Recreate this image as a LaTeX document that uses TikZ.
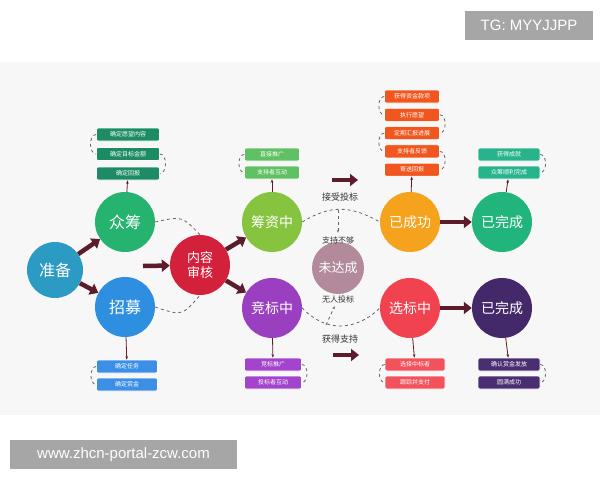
\documentclass[tikz,border=0pt]{standalone}
\usepackage{fontspec}
\setmainfont{Noto Sans CJK SC}
\newfontfamily\wmfont{Liberation Sans}
\usetikzlibrary{arrows.meta}

\definecolor{prepc}{HTML}{2B9BC4}
\definecolor{crowdc}{HTML}{25B36F}
\definecolor{recruitc}{HTML}{2E8FE0}
\definecolor{reviewc}{HTML}{D3203B}
\definecolor{raisec}{HTML}{86C440}
\definecolor{bidc}{HTML}{9A3FC0}
\definecolor{failc}{HTML}{B28A9C}
\definecolor{successc}{HTML}{F5A21C}
\definecolor{selectc}{HTML}{F0434F}
\definecolor{donec}{HTML}{22B57B}
\definecolor{closec}{HTML}{43286A}
\definecolor{crowdbox}{HTML}{1D8C64}
\definecolor{raisebox}{HTML}{5FC163}
\definecolor{successbox}{HTML}{F0561E}
\definecolor{donebox}{HTML}{27B48C}
\definecolor{recruitbox}{HTML}{3D8FE6}
\definecolor{bidbox}{HTML}{A444CC}
\definecolor{selectbox}{HTML}{F2525C}
\definecolor{closebox}{HTML}{4A2E72}
\definecolor{arrowc}{HTML}{5B1C2B}
\definecolor{wmgray}{HTML}{A6A6A6}

\begin{document}
\begin{tikzpicture}[x=1pt,y=-1pt,
  stage/.style={circle, fill=#1, text=white, minimum size=60pt, inner sep=0pt,
    align=center, font=\fontsize{16}{17}\selectfont},
  task/.style={fill=#1, text=white, rounded corners=2pt, minimum height=13pt,
    inner sep=1pt, draw=white, line width=.6pt, font=\fontsize{6}{7}\selectfont},
  link/.style={dashed, black!60, line width=.8pt},
  push/.style={line width=4.5pt, draw=arrowc, -{Triangle[length=8pt,width=12pt]}},
  pin/.style={-{Stealth[length=3.5pt]}, draw=arrowc, line width=.8pt},
  note/.style={font=\fontsize{8}{9}\selectfont, text=black!80}]
\useasboundingbox (0,0) rectangle (600,480);
\fill[black!3] (0,62) rectangle (600,415);

% watermarks
\node[fill=wmgray, text=white, minimum width=128pt, minimum height=29pt, inner sep=0pt,
  font=\wmfont\fontsize{15}{16}\selectfont] (tg) at (529,25.5) {TG: MYYJJPP};
\node[fill=wmgray, text=white, minimum width=227pt, minimum height=29pt, inner sep=0pt,
  font=\wmfont\fontsize{15}{16}\selectfont] (site) at (123.5,454.5) {www.zhcn-portal-zcw.com};

% stages
\node[stage=prepc, minimum size=56pt] (prep) at (55,270) {准备};
\node[stage=crowdc] (crowd) at (125,222) {众筹};
\node[stage=recruitc] (recruit) at (125,307) {招募};
\node[stage=reviewc, font=\fontsize{13}{15}\selectfont] (review) at (200,265) {内容\\审核};
\node[stage=raisec, font=\fontsize{14}{15}\selectfont] (raise) at (272,222) {筹资中};
\node[stage=bidc, font=\fontsize{14}{15}\selectfont] (bid) at (272,308) {竞标中};
\node[stage=failc, minimum size=52pt, font=\fontsize{13}{15}\selectfont] (fail) at (338,268) {未达成};
\node[stage=successc, font=\fontsize{14}{15}\selectfont] (success) at (410,222) {已成功};
\node[stage=selectc, font=\fontsize{14}{15}\selectfont] (select) at (410,308) {选标中};
\node[stage=donec, font=\fontsize{14}{15}\selectfont] (done) at (502,222) {已完成};
\node[stage=closec, font=\fontsize{14}{15}\selectfont] (close) at (502,308) {已完成};

% task stacks
\foreach \t [count=\i] in {确定愿望内容,确定目标金额,确定回报}
  \node[task=crowdbox, minimum width=63pt] (c\i) at (128,{134.5+19.5*(\i-1)}) {\t};
\foreach \t [count=\i] in {直接推广,支持者互动}
  \node[task=raisebox, minimum width=55pt] (r\i) at (272,{154.5+18*(\i-1)}) {\t};
\foreach \t [count=\i] in {获得资金款项,执行愿望,定期汇报进展,支持者反馈,寄送回报}
  \node[task=successbox, minimum width=55pt] (s\i) at (412,{96.5+18.3*(\i-1)}) {\t};
\foreach \t [count=\i] in {获得成就,众筹顺利完成}
  \node[task=donebox, minimum width=62pt] (d\i) at (509,{154.5+18*(\i-1)}) {\t};
\foreach \t [count=\i] in {确定任务,确定赏金}
  \node[task=recruitbox, minimum width=61pt] (m\i) at (127,{366.5+18*(\i-1)}) {\t};
\foreach \t [count=\i] in {竞标推广,投标者互动}
  \node[task=bidbox, minimum width=57pt] (b\i) at (273,{364.5+18*(\i-1)}) {\t};
\foreach \t [count=\i] in {选择中标者,跟踪并支付}
  \node[task=selectbox, minimum width=60pt] (x\i) at (415,{364.5+18*(\i-1)}) {\t};
\foreach \t [count=\i] in {确认赏金发放,圆满成功}
  \node[task=closebox, minimum width=62pt] (k\i) at (509,{364.5+18*(\i-1)}) {\t};

% dashed links inside the stacks
\draw[link] (c1.west) to[out=180,in=180] (c2.west);
\draw[link] (c2.east) to[out=0,in=0] (c3.east);
\draw[link] (r1.west) to[out=180,in=180] (r2.west);
\draw[link] (s1.west) to[out=180,in=180] (s2.west);
\draw[link] (s2.east) to[out=0,in=0] (s3.east);
\draw[link] (s3.west) to[out=180,in=180] (s4.west);
\draw[link] (s4.east) to[out=0,in=0] (s5.east);
\draw[link] (d1.east) to[out=0,in=0] (d2.east);
\draw[link] (m1.west) to[out=180,in=180] (m2.west);
\draw[link] (b1.east) to[out=0,in=0] (b2.east);
\draw[link] (x1.west) to[out=180,in=180] (x2.west);
\draw[link] (k1.east) to[out=0,in=0] (k2.east);

% stage to stack
\draw[pin] (crowd) -- (c3);
\draw[pin] (raise) -- (r2);
\draw[pin] (success) -- (s5);
\draw[pin] (done) -- (d2);
\draw[pin] (recruit) -- (m1);
\draw[pin] (bid) -- (b1);
\draw[pin] (select) -- (x1);
\draw[pin] (close) -- (k1);

% main flow
\coordinate (mid) at (143,266);
\draw[push] (prep) -- (crowd);
\draw[push] (prep) -- (recruit);
\draw[push] (mid) -- (review);
\draw[push] (review) -- (raise);
\draw[push] (review) -- (bid);
\draw[push] (success) -- (done);
\draw[push] (select) -- (close);
\draw[link] (crowd.east) .. controls (182,216) .. (review.north);
\draw[link] (recruit.east) .. controls (182,316) .. (review.south);

% middle column
\node[note] (nofund) at (338,240) {支持不够};
\node[note] (nobid) at (338,299) {无人投标};
\node[note, font=\fontsize{9}{10}\selectfont] (accept) at (340,197) {接受投标};
\node[note, font=\fontsize{9}{10}\selectfont] (gain) at (340,339) {获得支持};
\coordinate (acc1) at (332,180);
\coordinate (acc2) at (358,180);
\coordinate (gain1) at (333,355);
\coordinate (gain2) at (359,355);
\draw[push] (acc1) -- (acc2);
\draw[push] (gain1) -- (gain2);
\draw[link] (raise.east) .. controls (330,205) and (350,205) .. (success.west);
\draw[link] (bid.east) .. controls (325,332) and (355,332) .. (select.west);
\coordinate (topmid) at (338,210);
\coordinate (lowmid) at (326,325);
\draw[link, -{Stealth[length=3pt]}] (topmid) -- (nofund);
\draw[link, -{Stealth[length=3pt]}] (lowmid) -- (nobid);
\end{tikzpicture}
\end{document}
